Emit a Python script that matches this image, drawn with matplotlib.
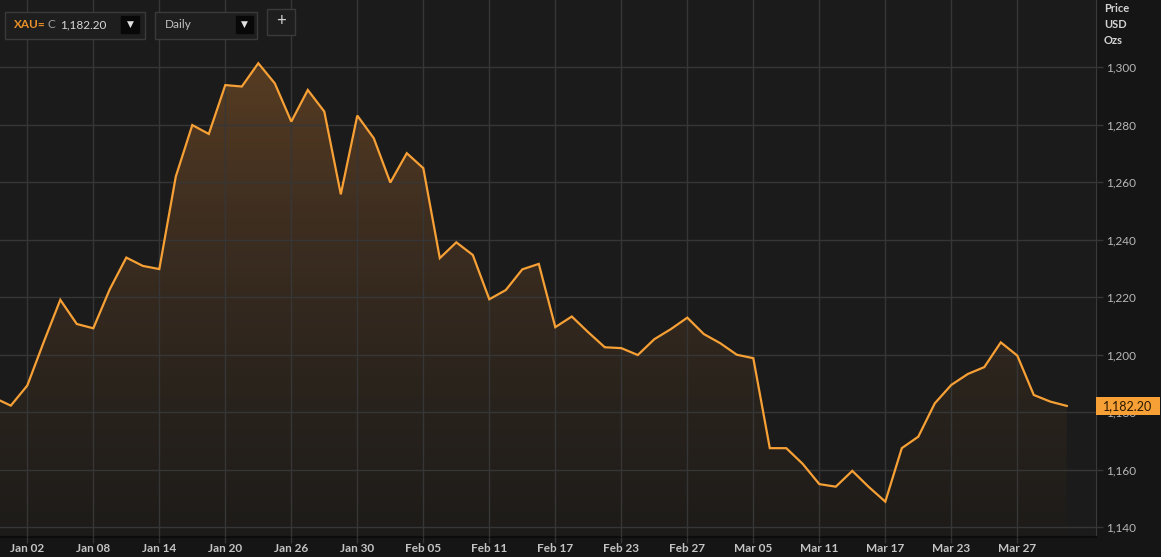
import numpy as np
import matplotlib
matplotlib.use("Agg")
import matplotlib.pyplot as plt
from matplotlib.patches import Rectangle
from matplotlib.transforms import blended_transform_factory

plt.rcParams['font.family'] = ['Lato', 'DejaVu Sans']

# daily gold price (XAU=), trading-day index 0 = Jan 02
day_idx = list(range(-2, 64))
prices = [1185.0, 1182.3, 1189.3, 1204.5, 1219.1, 1210.7, 1209.2, 1222.8, 1233.8, 1230.9,
          1229.8, 1262.0, 1279.9, 1276.8, 1293.8, 1293.3, 1301.4, 1294.4, 1281.1, 1292.1,
          1284.6, 1255.8, 1283.2, 1275.3, 1259.9, 1270.1, 1264.9, 1233.6, 1239.1, 1234.7,
          1219.3, 1222.5, 1229.7, 1231.6, 1209.6, 1213.3, 1207.8, 1202.6, 1202.3, 1199.9,
          1205.4, 1208.9, 1212.9, 1207.2, 1204.0, 1200.0, 1198.8, 1167.5, 1167.5, 1162.0,
          1155.0, 1154.1, 1159.6, 1154.0, 1148.9, 1167.5, 1171.5, 1183.1, 1189.5, 1193.3,
          1195.7, 1204.3, 1199.7, 1186.0, 1183.7, 1182.2]

tick_pos = list(range(0, 61, 4))
tick_labels = ["Jan 02", "Jan 08", "Jan 14", "Jan 20", "Jan 26", "Jan 30", "Feb 05", "Feb 11",
               "Feb 17", "Feb 23", "Feb 27", "Mar 05", "Mar 11", "Mar 17", "Mar 23", "Mar 27"]
y_ticks = [1140, 1160, 1180, 1200, 1220, 1240, 1260, 1280, 1300]
last_price = 1182.20

W, H = 1161, 557
ORANGE = '#f7a035'
GRID = '#363636'

fig = plt.figure(figsize=(W / 100, H / 100), dpi=100)
fig.patch.set_facecolor('#151515')
ax = fig.add_axes([0, 20 / H, 1096 / W, 537 / H])
ax.set_facecolor('#1b1b1b')

ax.set_xlim(-1.655, 64.77)
ax.set_ylim(1136.6, 1323.4)

# gradient fill under the line
poly = ax.fill_between(day_idx, prices, 1100, color='none')
grad = np.linspace(0, 1, 256).reshape(-1, 1)
cmap = matplotlib.colors.LinearSegmentedColormap.from_list(
    'g', ['#1d1b19', '#2b241d', '#3e2e20', '#573c22'])
img = ax.imshow(grad, extent=[-2, 64, 1136.6, 1303], origin='lower', aspect='auto',
                cmap=cmap, zorder=1)
img.set_clip_path(poly.get_paths()[0], transform=ax.transData)

ax.plot(day_idx, prices, color=ORANGE, lw=1.6, zorder=3, solid_joinstyle='miter')

ax.set_xticks(tick_pos)
ax.set_xticklabels(tick_labels)
ax.set_yticks(y_ticks)
ax.set_yticklabels([f"{v:,}" for v in y_ticks])
ax.grid(True, color=GRID, lw=1, zorder=2)
ax.set_axisbelow(False)
for g in ax.get_xgridlines() + ax.get_ygridlines():
    g.set_zorder(2)

ax.yaxis.tick_right()
ax.tick_params(axis='y', colors=GRID, length=5, width=1, labelcolor='#b8b8b8', labelsize=8.5, pad=2)
ax.tick_params(axis='x', colors=GRID, length=4, width=1, labelcolor='#c4c4c4', labelsize=8.5, pad=0)
for lbl in ax.get_xticklabels():
    lbl.set_fontweight('bold')

for s in ['top', 'left']:
    ax.spines[s].set_visible(False)
ax.spines['right'].set_color('#3a3a3a')
ax.spines['bottom'].set_color('#0c0c0c')
ax.spines['bottom'].set_linewidth(1.5)

# price tag on the right axis
tr = blended_transform_factory(fig.transFigure, ax.transData)
ax.add_patch(Rectangle((1096 / W, last_price - 3.05), 64 / W, 6.1, transform=tr,
                       facecolor=ORANGE, edgecolor='none', clip_on=False, zorder=5))
ax.text(1128 / W, last_price, f"{last_price:,.2f}", transform=tr, ha='center', va='center',
        fontsize=9, color='#2a1800', zorder=6)

def px(x, y):
    return x / W, 1 - y / H

# axis unit labels
for i, t in enumerate(["Price", "USD", "Ozs"]):
    fig.text(*px(1104, 8 + 16 * i), t, fontsize=8, fontweight='bold', color='#d4d4d4',
             va='center', ha='left')

# toolbar boxes
def box(x0, y0, x1, y1, fc='#1e1e1e', ec='#3a3a3a'):
    fig.patches.append(Rectangle(px(x0, y1), (x1 - x0) / W, (y1 - y0) / H,
                                 transform=fig.transFigure, facecolor=fc, edgecolor=ec, lw=1))

box(5, 12, 145, 39)
box(155, 12, 257, 39)
box(267, 9, 295, 35)
box(121, 16, 139, 33, fc='#080808', ec='#080808')
box(236, 16, 253, 33, fc='#080808', ec='#080808')
fig.text(*px(14, 25), "XAU=", fontsize=8.5, fontweight='bold', color='#e8902a', va='center')
fig.text(*px(48, 25), "C", fontsize=8.5, color='#a0a0a0', va='center')
fig.text(*px(60, 25), "1,182.20", fontsize=8.5, color='#d8d8d8', va='center')
fig.text(*px(130, 24), "▼", fontsize=6.5, color='#e0e0e0', va='center', ha='center')
fig.text(*px(165, 25), "Daily", fontsize=8.5, color='#c0c0c0', va='center')
fig.text(*px(244.5, 24), "▼", fontsize=6.5, color='#e0e0e0', va='center', ha='center')
fig.text(*px(281, 21), "+", fontsize=12, color='#d0d0d0', va='center', ha='center')

fig.savefig("out.png", dpi=100, facecolor=fig.get_facecolor())
